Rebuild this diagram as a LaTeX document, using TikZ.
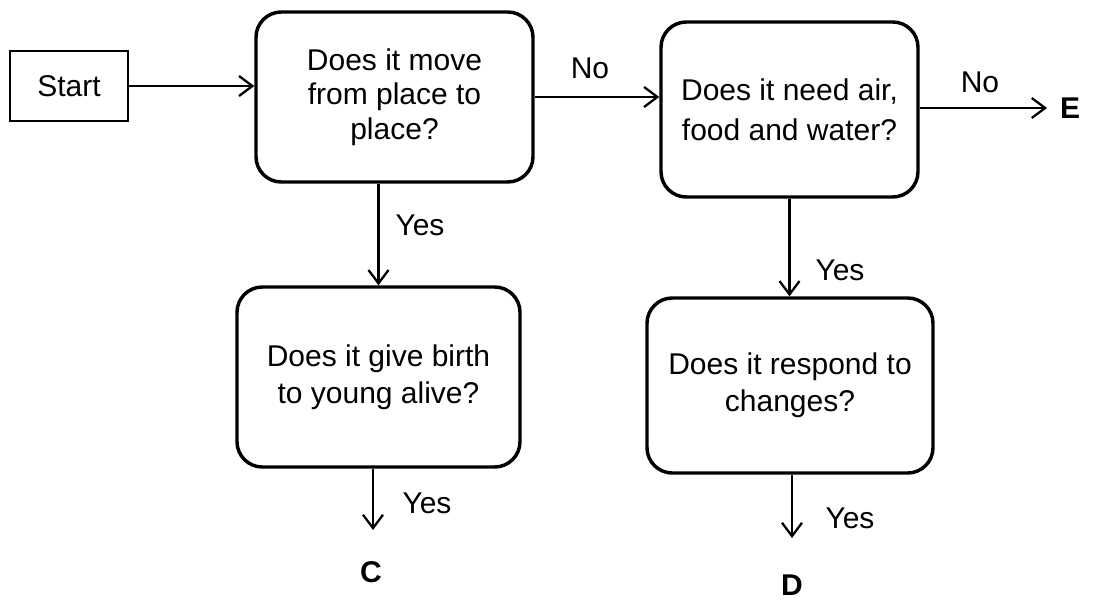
\documentclass[tikz,border=0pt]{standalone}
\usepackage{fontspec}
\setmainfont{Liberation Sans}
\usetikzlibrary{arrows.meta}
\begin{document}
\begin{tikzpicture}[x=0.75pt,y=-0.75pt,
  qbox/.style={draw,line width=2.6pt,rounded corners=19pt,align=center,inner sep=0pt},
  startbox/.style={draw,line width=0.8pt,minimum width={118*0.75pt},minimum height={70*0.75pt},inner sep=0pt},
  arr/.style={line width=1.9pt,-{Straight Barb[length=10pt,width=15pt,line width=1.7pt]}},
  lbl/.style={inner sep=0pt},
  every node/.style={font=\fontsize{22.5}{28}\selectfont}]
\useasboundingbox (0,0) rectangle (1096,602);
\node[startbox] (start) at (69,86) {Start};
\node[qbox,minimum width={277*0.75pt},minimum height={170*0.75pt},font=\fontsize{22.5}{26}\selectfont] (b1) at (394.5,97) {Does it move\\from place to\\place?};
\node[qbox,minimum width={257*0.75pt},minimum height={175*0.75pt},font=\fontsize{22.5}{30}\selectfont] (b2) at (789.5,109.5) {Does it need air,\\food and water?};
\node[qbox,minimum width={283*0.75pt},minimum height={180*0.75pt}] (b3) at (378.5,377) {Does it give birth\\to young alive?};
\node[qbox,minimum width={286*0.75pt},minimum height={175*0.75pt}] (b4) at (790,385.5) {Does it respond to\\changes?};
\node[lbl,font=\fontsize{22.5}{28}\selectfont\bfseries] (e) at (1070,108) {E};
\node[lbl,font=\fontsize{22.5}{28}\selectfont\bfseries] (c) at (371,572) {C};
\node[lbl,font=\fontsize{22.5}{28}\selectfont\bfseries] (d) at (792,585) {D};
\coordinate (c3) at (373,530);
\coordinate (d4) at (792,538);
\coordinate (e2) at (1047,108);
\draw[arr] (start.east) -- (start.east -| b1.west);
\draw[arr] (b1.east) -- (b1.east -| b2.west);
\draw[arr] (b2.east |- e2) -- (e2);
\draw[arr] (b3.north |- b1.south) -- (b3.north);
\draw[arr] (b2.south) -- (b2.south |- b4.north);
\draw[arr] (b3.south -| c3) -- (c3);
\draw[arr] (b4.south -| d4) -- (d4);
\node[lbl] (no1) at (590,68) {No};
\node[lbl] (no2) at (980,82) {No};
\node[lbl] (y1) at (420,225) {Yes};
\node[lbl] (y2) at (840,270) {Yes};
\node[lbl] (y3) at (427,503) {Yes};
\node[lbl] (y4) at (850,518) {Yes};
\end{tikzpicture}
\end{document}
